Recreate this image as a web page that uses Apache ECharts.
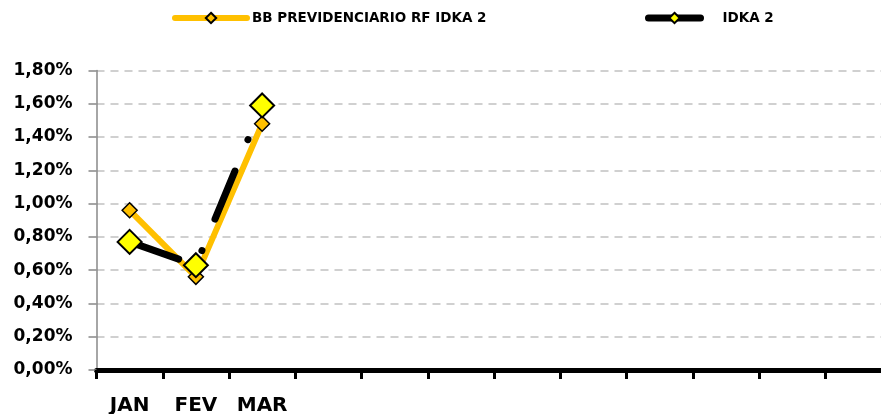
<!DOCTYPE html>
<html>
<head>
<meta charset="utf-8">
<script src="https://cdn.jsdelivr.net/npm/echarts@6/dist/echarts.min.js"></script>
<style>
  html, body { margin: 0; padding: 0; background: #fff; }
  #chart { width: 881px; height: 414px; }
</style>
</head>
<body>
<div id="chart"></div>
<script>
// meses (só JAN-MAR com dados)
const months = ['JAN', 'FEV', 'MAR', '', '', '', '', '', '', '', '', '']
const fundo = [0.96, 0.56, 1.48]
const idka = [0.77, 0.63, 1.59]
const yTicks = [0, 0.2, 0.4, 0.6, 0.8, 1.0, 1.2, 1.4, 1.6, 1.8]

const font = 'DejaVu Sans'
const chart = echarts.init(document.getElementById('chart'))
chart.setOption({
  animation: false,
  legend: [
    {
      data: ['BB PREVIDENCIARIO RF IDKA 2'],
      left: 172,
      top: 11,
      padding: 0,
      itemWidth: 72,
      itemHeight: 13,
      lineStyle: { width: 6, cap: 'round' },
      textStyle: { fontFamily: font, fontWeight: 'bold', fontSize: 13.5, color: '#000' }
    },
    {
      data: ['IDKA 2'],
      left: 645,
      top: 11,
      padding: 0,
      itemWidth: 52,
      itemHeight: 13,
      lineStyle: { type: 'solid', width: 7, cap: 'round' },
      textStyle: { fontFamily: font, fontWeight: 'bold', fontSize: 13.5, color: '#000', padding: [0, 0, 0, 17] }
    }
  ],
  grid: { left: 96.5, top: 70.5, width: 795, bottom: 44, containLabel: false, outerBoundsMode: 'none' },
  xAxis: {
    type: 'category',
    data: months,
    boundaryGap: true,
    axisLine: { lineStyle: { color: '#000', width: 5 } },
    axisTick: { show: true, interval: 0, alignWithLabel: false, length: 9, lineStyle: { color: '#000', width: 3 } },
    axisLabel: { interval: 0, margin: 26, fontFamily: font, fontWeight: 'bold', fontSize: 20, color: '#000' },
    splitLine: { show: false }
  },
  yAxis: {
    type: 'value',
    min: 0,
    max: yTicks[yTicks.length - 1],
    interval: 0.2,
    axisLine: { show: true, lineStyle: { color: '#888', width: 1.5 } },
    axisTick: { show: true, length: 8, lineStyle: { color: '#888', width: 1.5 } },
    axisLabel: {
      margin: 24,
      fontFamily: font,
      fontWeight: 'bold',
      fontSize: 17,
      color: '#000',
      formatter: v => v.toFixed(2).replace('.', ',') + '%'
    },
    splitLine: { lineStyle: { color: '#d0d0d0', width: 2, type: [8, 6] } }
  },
  series: [
    {
      name: 'BB PREVIDENCIARIO RF IDKA 2',
      type: 'line',
      data: fundo,
      symbol: 'diamond',
      symbolSize: 15,
      lineStyle: { color: '#FFC000', width: 6 },
      itemStyle: { color: '#FFC000', borderColor: '#000', borderWidth: 1.5 }
    },
    {
      name: 'IDKA 2',
      type: 'line',
      data: idka,
      symbol: 'diamond',
      symbolSize: 24,
      lineStyle: { color: '#000', width: 7, type: [52, 34, 0.1, 34], cap: 'round' },
      itemStyle: { color: '#FFFF00', borderColor: '#000', borderWidth: 2 }
    }
  ]
})
</script>
</body>
</html>
